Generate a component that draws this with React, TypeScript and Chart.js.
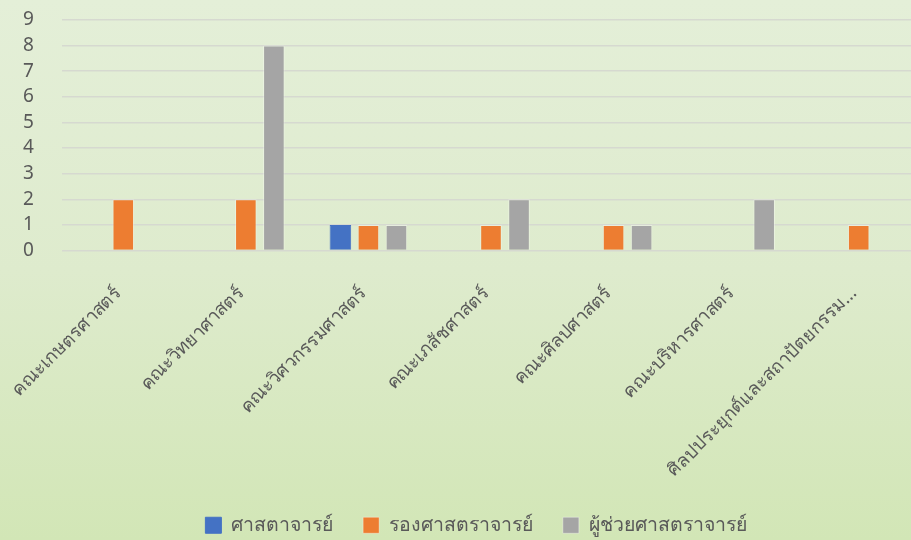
import React, { useEffect, useRef } from "react";
import { Chart, registerables } from "chart.js";

Chart.register(...registerables);

const categories = [
  "คณะเกษตรศาสตร์",
  "คณะวิทยาศาสตร์",
  "คณะวิศวกรรมศาสตร์",
  "คณะเภสัชศาสตร์",
  "คณะศิลปศาสตร์",
  "คณะบริหารศาสตร์",
  "ศิลปประยุกต์และสถาปัตยกรรม...",
];
const seriesNames = ["ศาสตาจารย์", "รองศาสตราจารย์", "ผู้ช่วยศาสตราจารย์"];
const professor = [0, 0, 1, 0, 0, 0, 0];
const associate = [2, 2, 1, 1, 1, 0, 1];
const assistant = [0, 8, 1, 2, 1, 2, 0];
const yTicks = [0, 1, 2, 3, 4, 5, 6, 7, 8, 9];

const colors = ["#4472C4", "#ED7D31", "#A5A5A5"];
const FONT = "'Noto Sans', 'DejaVu Sans', sans-serif";

const adjustLayout = {
  id: "adjustLayout",
  afterLayout(chart: any) {
    const l = chart.legend;
    if (l) {
      l.left += 16;
      l.right += 16;
      l.top += 7;
      l.bottom += 7;
    }
    const y = chart.scales.y;
    if (y) {
      y.left = 23;
    }
  },
};

export default function App() {
  const ref = useRef<HTMLCanvasElement | null>(null);
  useEffect(() => {
    if (!ref.current) return;
    const values = [professor, associate, assistant];
    const chart = new Chart(ref.current, {
      type: "bar",
      data: {
        labels: categories,
        datasets: values.map((v, i) => ({
          label: seriesNames[i],
          data: v.map((x) => (x === 0 ? null : x)),
          backgroundColor: colors[i],
          borderColor: i === 0 ? colors[i] : "rgba(255,255,255,0.35)",
          borderWidth: 1,
          categoryPercentage: 0.686,
          barPercentage: 0.77,
        })),
      },
      plugins: [adjustLayout],
      options: {
        animation: false,
        responsive: false,
        layout: { padding: { top: 20, left: 0, right: 0, bottom: 2 } },
        plugins: {
          tooltip: { enabled: false },
          legend: {
            position: "bottom",
            labels: {
              boxWidth: 16,
              boxHeight: 16,
              padding: 30,
              color: "#595959",
              font: { family: FONT, size: 19.5 },
            },
          },
        },
        scales: {
          x: {
            grid: { display: false, drawTicks: false },
            border: { display: false },
            ticks: {
              autoSkip: false,
              minRotation: 45,
              maxRotation: 45,
              padding: 32,
              labelOffset: -5,
              color: "#595959",
              font: { family: FONT, size: 18.5 },
            },
            afterFit: (s: any) => {
              s.height = 228;
              s.paddingLeft = 0;
              s.paddingRight = 0;
            },
          },
          y: {
            min: 0,
            max: 9,
            afterBuildTicks: (s: any) => {
              s.ticks = yTicks.map((v) => ({ value: v }));
            },
            grid: { color: "#d6d9d0", lineWidth: 1.5, drawTicks: false },
            border: { display: false },
            ticks: {
              autoSkip: false,
              stepSize: 1,
              crossAlign: "far",
              padding: 10,
              color: "#595959",
              font: { family: FONT, size: 19 },
            },
            afterFit: (s: any) => {
              s.width = 62;
              s.paddingTop = 0;
              s.paddingBottom = 0;
            },
          },
        },
      },
    });
    return () => chart.destroy();
  }, []);
  return (
    <div
      style={{
        position: "absolute",
        left: 0,
        top: 0,
        width: 911,
        height: 540,
        overflow: "hidden",
        background: "linear-gradient(to bottom, #e4efd8 0%, #deebcd 50%, #d2e6b6 100%)",
      }}
    >
      <canvas ref={ref} width={920} height={540} style={{ display: "block" }} />
    </div>
  );
}
